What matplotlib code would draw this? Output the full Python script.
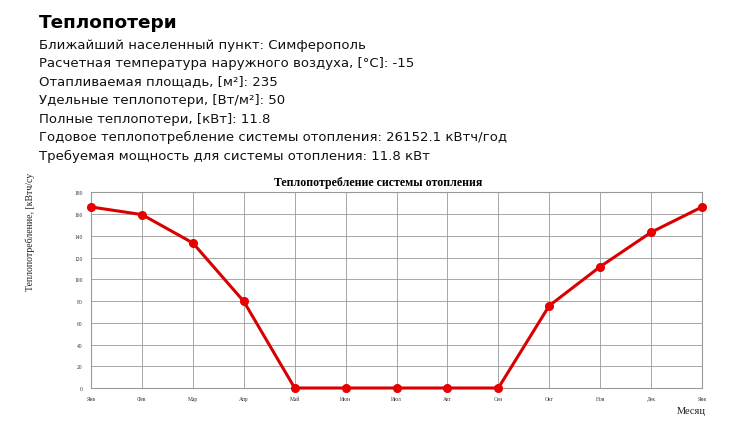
import matplotlib
matplotlib.use("Agg")
import matplotlib.pyplot as plt

# Summary of the heating calculation
heading = "Теплопотери"
info_lines = [
    "Ближайший населенный пункт: Симферополь",
    "Расчетная температура наружного воздуха, [°C]: -15",
    "Отапливаемая площадь, [м²]: 235",
    "Удельные теплопотери, [Вт/м²]: 50",
    "Полные теплопотери, [кВт]: 11.8",
    "Годовое теплопотребление системы отопления: 26152.1 кВтч/год",
    "Требуемая мощность для системы отопления: 11.8 кВт",
]

# Daily heat demand by month (the year wraps back to January)
months = ["Янв", "Фев", "Мар", "Апр", "Май", "Июн", "Июл", "Авг", "Сен",
          "Окт", "Ноя", "Дек", "Янв"]
demand = [166.5, 159.5, 133.4, 79.7, 0, 0, 0, 0, 0, 75.7, 111.6, 143.2, 166.5]
y_ticks = list(range(0, 181, 20))

chart_title = "Теплопотребление системы отопления"
y_label = "Теплопотребление, [кВтч/су"
x_label = "Месяц"

W, H = 746, 439
fig = plt.figure(figsize=(W / 100, H / 100), dpi=100)
fig.patch.set_facecolor("white")

sans = ["DejaVu Sans"]
serif = ["Liberation Serif", "DejaVu Serif"]

fig.text(39 / W, 1 - 23 / H, heading, fontsize=13.3, fontweight="bold",
         family=sans, va="center", ha="left", color="black")
for i, line in enumerate(info_lines):
    fig.text(39 / W, 1 - (45 + i * 18.5) / H, line, fontsize=9.5,
             family=sans, va="center", ha="left", color="#111111")

ax = fig.add_axes([91 / W, 1 - 389 / H, (702 - 91) / W, (389 - 193.3) / H])
x = list(range(len(months)))
ax.plot(x, demand, color="#d80000", lw=2.2, marker="o", markersize=5.5,
        markerfacecolor="#e60000", markeredgecolor="#e60000", zorder=3,
        clip_on=False)
ax.set_xlim(0, len(months) - 1)
ax.set_ylim(0, 180)
ax.set_xticks(x)
ax.set_xticklabels(months, family=serif, fontsize=4)
ax.set_yticks(y_ticks)
ax.set_yticklabels([str(v) for v in y_ticks], family=serif, fontsize=4)
ax.tick_params(length=0, pad=6, colors="#333333")
ax.grid(True, color="#999999", lw=0.6)
ax.set_axisbelow(True)
for sp in ax.spines.values():
    sp.set_color("#999999")
    sp.set_linewidth(0.8)

fig.text(378.5 / W, 1 - 183 / H, chart_title, fontsize=8.6, fontweight="bold",
         family=serif, ha="center", va="center", color="black")
fig.text(30 / W, 1 - 291 / H, y_label, fontsize=7, family=serif,
         rotation=90, ha="center", va="bottom", color="#222222")
fig.text(706 / W, 1 - 412 / H, x_label, fontsize=7.5, family=serif,
         ha="right", va="center", color="#222222")

fig.savefig("out.png", dpi=100, facecolor="white")
